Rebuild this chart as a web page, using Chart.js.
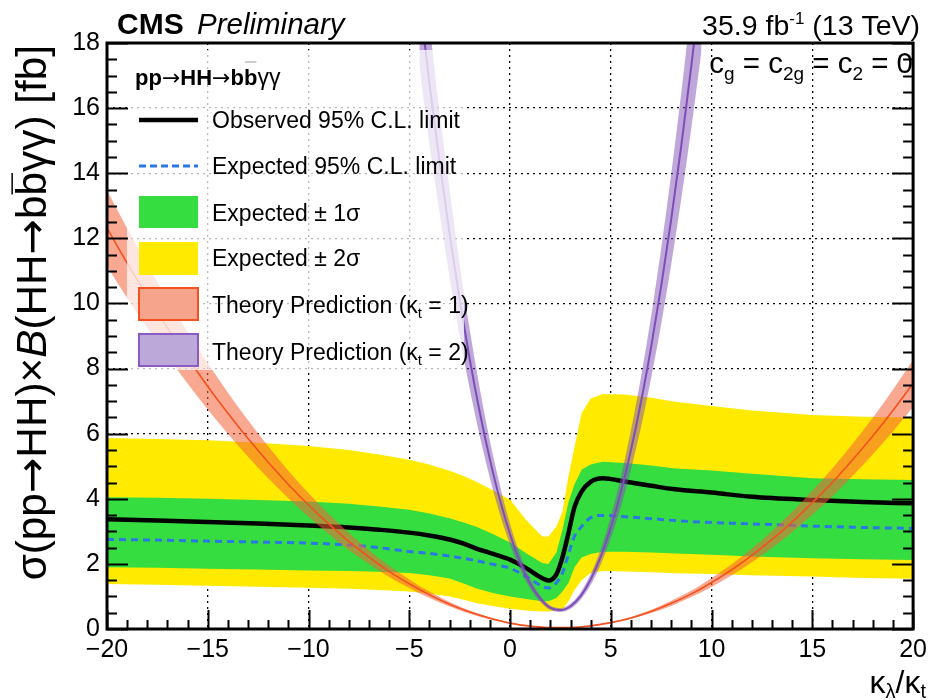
<!DOCTYPE html>
<html><head><meta charset="utf-8">
<script src="https://cdn.jsdelivr.net/npm/chart.js@4.4.0/dist/chart.umd.min.js"></script>
<style>html,body{margin:0;padding:0;background:#fff;}canvas{display:block;}</style>
</head><body>
<canvas id="c" width="933" height="700"></canvas>
<script>
// ---------- data ----------
const kappaBand = [-20,-17.5,-15,-12.5,-10,-8,-6.5,-5,-4,-3,-2.3,-1.7,-0.8,0,0.8,1.6,1.9,2.3,2.6,2.9,3.2,3.55,4.0,4.6,5.7,7.0,8.2,10,12,15,17.5,20];
const yellowLow  = [1.38,1.36,1.33,1.30,1.27,1.24,1.20,1.15,1.08,1.00,0.90,0.80,0.70,0.62,0.57,0.54,0.54,0.57,0.60,0.85,1.20,1.50,1.72,1.78,1.77,1.74,1.71,1.69,1.65,1.61,1.57,1.54];
const greenLow   = [1.90,1.88,1.85,1.83,1.80,1.78,1.76,1.72,1.65,1.55,1.40,1.25,1.10,1.00,0.92,0.85,0.85,0.95,1.15,1.41,1.90,2.20,2.30,2.37,2.37,2.35,2.32,2.28,2.23,2.17,2.14,2.12];
const expectedLimit = [2.75,2.73,2.70,2.67,2.64,2.58,2.50,2.38,2.32,2.24,2.17,2.10,1.98,1.87,1.61,1.31,1.26,1.42,1.72,2.30,2.85,3.15,3.42,3.49,3.45,3.39,3.33,3.27,3.23,3.16,3.12,3.09];
const observedLimit = [3.37,3.33,3.29,3.24,3.18,3.12,3.05,2.96,2.87,2.75,2.62,2.48,2.30,2.13,1.87,1.56,1.49,1.68,2.20,2.95,3.75,4.22,4.52,4.63,4.53,4.40,4.29,4.19,4.06,3.96,3.90,3.86];
const greenHigh  = [4.05,4.03,4.00,3.96,3.92,3.85,3.76,3.66,3.55,3.40,3.27,3.15,2.90,2.66,2.33,2.03,2.00,2.35,3.05,3.90,4.45,4.89,5.05,5.14,5.10,5.02,4.93,4.87,4.77,4.63,4.60,4.58];
const yellowHigh = [5.87,5.84,5.80,5.72,5.62,5.50,5.36,5.20,5.05,4.86,4.70,4.53,4.25,3.97,3.35,2.84,2.84,3.15,3.60,4.70,5.60,6.63,7.08,7.22,7.20,7.10,6.98,6.85,6.71,6.57,6.52,6.50];

const kappaTheory1 = [-20,-19,-18,-17,-16,-15,-14,-13,-12,-11,-10,-9,-8,-7,-6,-5,-4,-3,-2,-1,0,1,2,3,4,5,6,7,8,9,10,11,12,13,14,15,16,17,18,19,20];
const theory1Mid  = [12.31,11.24,10.22,9.25,8.33,7.45,6.63,5.85,5.12,4.44,3.81,3.23,2.69,2.21,1.77,1.39,1.05,0.76,0.52,0.33,0.18,0.087,0.041,0.044,0.095,0.195,0.34,0.54,0.79,1.08,1.43,1.82,2.26,2.75,3.29,3.88,4.51,5.20,5.93,6.71,7.54];
const theory1High = [13.48,12.31,11.19,10.13,9.12,8.16,7.26,6.41,5.61,4.86,4.17,3.54,2.95,2.42,1.94,1.52,1.15,0.83,0.57,0.36,0.20,0.095,0.045,0.048,0.104,0.214,0.37,0.59,0.87,1.18,1.57,1.99,2.47,3.01,3.60,4.25,4.94,5.69,6.49,7.35,8.26];
const theory1Low  = [11.14,10.17,9.25,8.37,7.54,6.74,6.00,5.29,4.63,4.02,3.45,2.92,2.43,2.00,1.60,1.26,0.95,0.69,0.47,0.30,0.16,0.079,0.037,0.040,0.086,0.176,0.31,0.49,0.71,0.98,1.29,1.65,2.05,2.49,2.98,3.51,4.08,4.71,5.37,6.07,6.82];

const kappaTheory2 = [-4.5,-4,-3.5,-3,-2.5,-2,-1.5,-1,-0.5,0,0.5,1,1.5,2,2.5,3,3.5,4,4.5,5,5.5,6,6.5,7,7.5,8,8.5,9,9.5];
const theory2Mid  = [19.39,16.77,14.36,12.14,10.11,8.28,6.65,5.21,3.96,2.91,2.05,1.39,0.93,0.65,0.58,0.70,1.01,1.52,2.22,3.12,4.21,5.50,6.98,8.66,10.53,12.60,14.86,17.32,19.97];
const theory2High = [21.5,18.6,15.9,13.5,11.2,9.19,7.38,5.78,4.40,3.23,2.28,1.54,1.03,0.72,0.64,0.78,1.12,1.69,2.46,3.46,4.67,6.11,7.75,9.61,11.69,13.99,16.49,19.23,22.17];
const theory2Low  = [17.3,14.9,12.8,10.8,9.0,7.37,5.92,4.64,3.52,2.59,1.82,1.24,0.83,0.58,0.52,0.62,0.90,1.35,1.98,2.78,3.75,4.90,6.21,7.71,9.37,11.21,13.23,15.41,17.77];

const xTickValues = [-20,-15,-10,-5,0,5,10,15,20];
const yTickValues = [0,2,4,6,8,10,12,14,16,18];

// ---------- styling ----------
const F = '"Liberation Sans", Arial, Helvetica, sans-serif';
const FA = '"DejaVu Sans", "Liberation Sans", sans-serif';   // wide arrows
const C = {
  yellow: '#ffea00', green: '#35dd40', blue: '#2b78e4', black: '#000',
  red: '#f4511e', redBand: 'rgba(244,96,56,0.55)', redBox: '#f7a48c',
  purple: '#7c4fb8', purpleBand: 'rgba(128,80,182,0.5)', purpleBox: '#bda9d9', purpleEdge: '#8a5bc2'
};
const pts = (xs, ys) => xs.map((x, i) => ({x, y: ys[i]}));
const hidden = {borderColor: 'rgba(0,0,0,0)', borderWidth: 1, pointRadius: 0, fill: false};

function rich(ctx, parts, x, y, align) {
  let w = 0;
  for (const p of parts) { ctx.font = p.f; p.w = ctx.measureText(p.t).width; w += p.w; }
  let cx = align === 'right' ? x - w : x;
  for (const p of parts) {
    ctx.font = p.f; ctx.fillStyle = p.c || '#000';
    ctx.fillText(p.t, cx, y + (p.dy || 0)); p.x = cx; cx += p.w;
  }
  return parts;
}

const decor = {
  id: 'decor',
  afterDatasetsDraw(chart) {
    const ctx = chart.ctx, a = chart.chartArea;
    ctx.save();
    // semi-transparent legend box
    ctx.fillStyle = 'rgba(255,255,255,0.72)';
    ctx.fillRect(127, 50, 337, 320);

    ctx.textBaseline = 'alphabetic';
    // legend title
    const bf = 'bold 22px ' + F, af = '22px ' + FA;
    const tp = rich(ctx, [
      {t: 'pp', f: bf}, {t: '\u2192', f: af}, {t: 'HH', f: bf}, {t: '\u2192', f: af},
      {t: 'bb', f: bf}, {t: '\u03b3\u03b3', f: '23px ' + F}
    ], 135, 85);
    ctx.font = bf;
    const wb = ctx.measureText('b').width;
    const bx = tp[4].x + tp[4].w - wb;
    ctx.strokeStyle = '#aaa'; ctx.lineWidth = 1.2;
    ctx.beginPath(); ctx.moveTo(bx + 1, 62); ctx.lineTo(bx + wb - 1, 62); ctx.stroke();

    // legend markers
    ctx.strokeStyle = '#000'; ctx.lineWidth = 4.5;
    ctx.beginPath(); ctx.moveTo(139, 120); ctx.lineTo(198, 120); ctx.stroke();
    ctx.strokeStyle = C.blue; ctx.lineWidth = 3; ctx.setLineDash([7, 4]);
    ctx.beginPath(); ctx.moveTo(139, 166); ctx.lineTo(198, 166); ctx.stroke();
    ctx.setLineDash([]);
    ctx.fillStyle = C.green; ctx.fillRect(139, 196, 59, 32);
    ctx.fillStyle = C.yellow; ctx.fillRect(139, 242, 59, 33);
    ctx.fillStyle = C.redBox; ctx.fillRect(139, 288, 59, 32);
    ctx.strokeStyle = C.red; ctx.lineWidth = 2; ctx.strokeRect(139, 288, 59, 32);
    ctx.fillStyle = C.purpleBox; ctx.fillRect(139, 334, 59, 32);
    ctx.strokeStyle = C.purpleEdge; ctx.lineWidth = 2; ctx.strokeRect(139, 334, 59, 32);

    // legend texts
    const lf = '23px ' + F, sf = '15px ' + F;
    rich(ctx, [{t: 'Observed 95% C.L. limit', f: lf}], 212, 128);
    rich(ctx, [{t: 'Expected 95% C.L. limit', f: lf}], 212, 174);
    rich(ctx, [{t: 'Expected \u00b1 1\u03c3', f: lf}], 212, 221);
    rich(ctx, [{t: 'Expected \u00b1 2\u03c3', f: lf}], 212, 266);
    rich(ctx, [{t: 'Theory Prediction (\u03ba', f: lf}, {t: 't', f: sf, dy: 5}, {t: ' = 1)', f: lf}], 212, 313);
    rich(ctx, [{t: 'Theory Prediction (\u03ba', f: lf}, {t: 't', f: sf, dy: 5}, {t: ' = 2)', f: lf}], 212, 360);

    // coupling label
    const cf = '29.5px ' + F, cs = '19px ' + F;
    rich(ctx, [{t: 'c', f: cf}, {t: 'g', f: cs, dy: 7}, {t: ' = c', f: cf}, {t: '2g', f: cs, dy: 7},
               {t: ' = c', f: cf}, {t: '2', f: cs, dy: 7}, {t: ' = 0', f: cf}], 913, 73, 'right');

    // frame
    ctx.strokeStyle = '#000'; ctx.lineWidth = 3;
    ctx.strokeRect(a.left, a.top, a.right - a.left, a.bottom - a.top);
    // inward ticks
    const xs = chart.scales.x, ys = chart.scales.y;
    ctx.lineWidth = 2;
    ctx.beginPath();
    for (let v = -20; v <= 20; v += 1) {
      const px = Math.round(xs.getPixelForValue(v)) + 0.5;
      const len = (v % 5 === 0) ? 19 : 9;
      ctx.moveTo(px, a.bottom); ctx.lineTo(px, a.bottom - len);
    }
    for (let v = 0; v <= 18; v += 0.5) {
      const py = Math.round(ys.getPixelForValue(v)) + 0.5;
      const len = (v % 2 === 0) ? 21 : 10;
      ctx.moveTo(a.left, py); ctx.lineTo(a.left + len, py);
      ctx.moveTo(a.right, py); ctx.lineTo(a.right - len, py);
    }
    ctx.stroke();

    // header texts
    rich(ctx, [{t: 'CMS', f: 'bold 30px ' + F}], 117, 34);
    rich(ctx, [{t: 'Preliminary', f: 'italic 29.5px ' + F}], 197, 34);
    rich(ctx, [{t: '35.9 fb', f: '28.5px ' + F}, {t: '-1', f: '17px ' + F, dy: -11},
               {t: ' (13 TeV)', f: '28.5px ' + F}], 920, 35, 'right');

    // x title
    rich(ctx, [{t: '\u03ba', f: '32px ' + F}, {t: '\u03bb', f: '20px ' + F, dy: 5},
               {t: '/', f: '32px ' + F}, {t: '\u03ba', f: '32px ' + F}, {t: 't', f: '20px ' + F, dy: 5}],
         926, 693, 'right');

    // y title (rotated)
    const parts = [
      {t: '\u03c3(pp', k: 'n'}, {t: '\u2192', k: 'a'}, {t: 'HH)\u00d7', k: 'n'},
      {t: 'B', k: 'i'},
      {t: '(HH', k: 'n'}, {t: '\u2192', k: 'a'}, {t: 'bb', k: 'n', bar: true},
      {t: '\u03b3\u03b3) [fb]', k: 'n'}
    ];
    const fontOf = (p, sz) => p.k === 'i' ? 'italic ' + sz + 'px ' + F : (p.k === 'a' ? sz + 'px ' + FA : sz + 'px ' + F);
    const target = 535;
    const measure = sz => parts.reduce((s, p) => { ctx.font = fontOf(p, sz); return s + ctx.measureText(p.t).width; }, 0);
    let sz = 30; sz = sz * target / measure(sz); sz = Math.round(sz * 10) / 10;
    const total = measure(sz);
    ctx.translate(46, 45 + total);
    ctx.rotate(-Math.PI / 2);
    let cx = 0;
    ctx.fillStyle = '#000';
    for (const p of parts) {
      ctx.font = fontOf(p, sz);
      ctx.fillText(p.t, cx, 0);
      const w = ctx.measureText(p.t).width;
      if (p.bar) {
        const wb2 = ctx.measureText('b').width;
        ctx.strokeStyle = '#000'; ctx.lineWidth = 1.5;
        ctx.beginPath(); ctx.moveTo(cx + w - wb2 + 1, -sz * 0.8); ctx.lineTo(cx + w - 1, -sz * 0.8); ctx.stroke();
      }
      cx += w;
    }
    ctx.restore();
  }
};

const mono = {cubicInterpolationMode: 'monotone', pointRadius: 0};

new Chart(document.getElementById('c'), {
  type: 'line',
  data: {
    datasets: [
      Object.assign({label: 'yl', data: pts(kappaBand, yellowLow), order: 100}, hidden),
      Object.assign({}, hidden, {label: 'yh', data: pts(kappaBand, yellowHigh), fill: 0, backgroundColor: C.yellow, order: 99}),
      Object.assign({label: 'gl', data: pts(kappaBand, greenLow), order: 98}, hidden),
      Object.assign({}, hidden, {label: 'gh', data: pts(kappaBand, greenHigh), fill: 2, backgroundColor: C.green, order: 97}),
      Object.assign({label: 'Expected', data: pts(kappaBand, expectedLimit), borderColor: C.blue, borderWidth: 3,
        borderDash: [7, 5], fill: false, order: 96}, mono),
      Object.assign({label: 'Observed', data: pts(kappaBand, observedLimit), borderColor: '#000', borderWidth: 4.5,
        fill: false, order: 95}, mono),
      Object.assign({}, hidden, {label: 't1l', data: pts(kappaTheory1, theory1Low), order: 94}, {cubicInterpolationMode: 'monotone'}),
      Object.assign({}, hidden, {label: 't1h', data: pts(kappaTheory1, theory1High), fill: 6, backgroundColor: C.redBand, order: 93}, {cubicInterpolationMode: 'monotone'}),
      Object.assign({label: 't1', data: pts(kappaTheory1, theory1Mid), borderColor: C.red, borderWidth: 1.6, fill: false, order: 92}, mono),
      Object.assign({}, hidden, {label: 't2l', data: pts(kappaTheory2, theory2Low), order: 91}, {cubicInterpolationMode: 'monotone'}),
      Object.assign({}, hidden, {label: 't2h', data: pts(kappaTheory2, theory2High), fill: 9, backgroundColor: C.purpleBand, order: 90}, {cubicInterpolationMode: 'monotone'}),
      Object.assign({label: 't2', data: pts(kappaTheory2, theory2Mid), borderColor: C.purple, borderWidth: 2, fill: false, order: 89}, mono)
    ]
  },
  options: {
    responsive: false, animation: false, devicePixelRatio: 1, events: [],
    layout: {padding: {left: 0, right: 13, top: 43, bottom: 0}},
    plugins: {legend: {display: false}, tooltip: {enabled: false}, title: {display: false}},
    scales: {
      x: {
        type: 'linear', min: -20, max: 20,
        afterFit(s) { s.height = 71; },
        afterBuildTicks(s) { s.ticks = xTickValues.map(v => ({value: v})); },
        ticks: {color: '#000', font: {family: F, size: 25}, padding: 6, maxRotation: 0, autoSkip: false,
          callback: v => (v < 0 ? '\u2212' + Math.abs(v) : String(v))},
        grid: {color: '#000', lineWidth: 1.3, drawTicks: false},
        border: {display: false, dash: [2, 4]}
      },
      y: {
        type: 'linear', min: 0, max: 18,
        afterFit(s) { s.width = 107; },
        afterBuildTicks(s) { s.ticks = yTickValues.map(v => ({value: v})); },
        ticks: {color: '#000', font: {family: F, size: 25}, padding: 7, autoSkip: false},
        grid: {color: '#000', lineWidth: 1.3, drawTicks: false},
        border: {display: false, dash: [2, 4]}
      }
    }
  },
  plugins: [decor]
});
</script>
</body></html>
